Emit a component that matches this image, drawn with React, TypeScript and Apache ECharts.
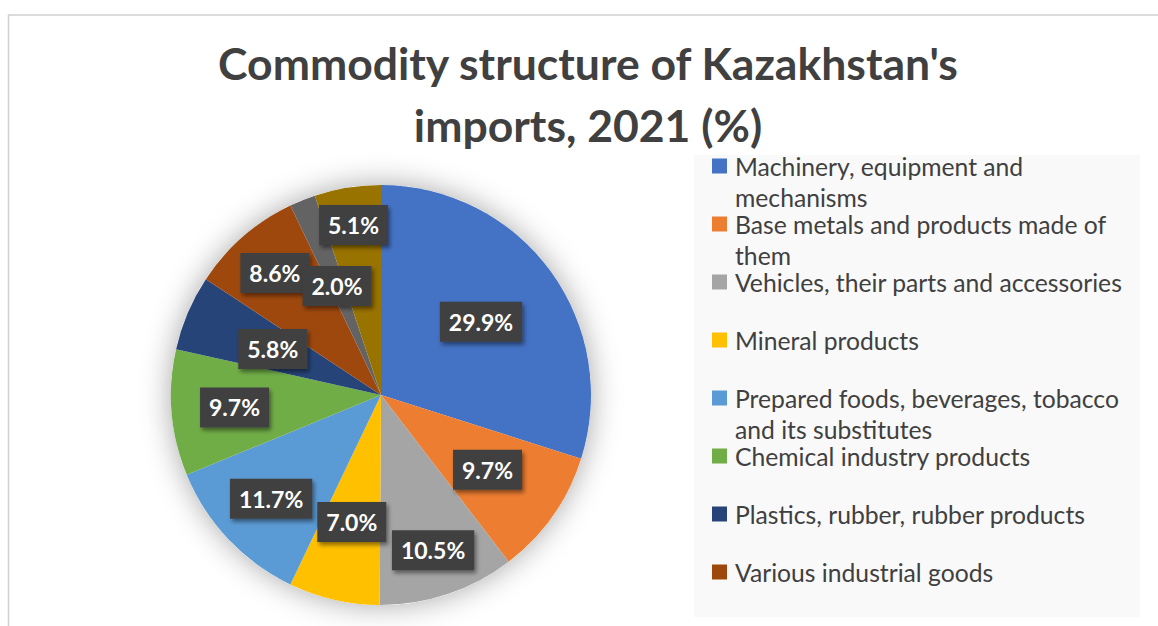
import React, { useEffect, useRef } from "react";
import * as echarts from "echarts";

const categories = [
  "Machinery, equipment and mechanisms",
  "Base metals and products made of them",
  "Vehicles, their parts and accessories",
  "Mineral products",
  "Prepared foods, beverages, tobacco and its substitutes",
  "Chemical industry products",
  "Plastics, rubber, rubber products",
  "Various industrial goods",
  "Textiles and textile products",
  "Other goods",
];
const shares = [29.9, 9.7, 10.5, 7.0, 11.7, 9.7, 5.8, 8.6, 2.0, 5.1];
const legendCategories = categories.slice(0, 8);
const legendLabels = [
  "Machinery, equipment and\nmechanisms",
  "Base metals and products made of\nthem",
  "Vehicles, their parts and accessories\n ",
  "Mineral products\n ",
  "Prepared foods, beverages, tobacco\nand its substitutes",
  "Chemical industry products\n ",
  "Plastics, rubber, rubber products\n ",
  "Various industrial goods\n ",
];
const colors = [
  "#4472C4", "#ED7D31", "#A5A5A5", "#FFC000", "#5B9BD5",
  "#70AD47", "#264478", "#9E480E", "#636363", "#997300",
];
const titleText = "Commodity structure of Kazakhstan's\nimports, 2021 (%)";

// layout (styles, not data)
const CX = 381;
const CY = 395;
const R = 210;
const labelRadius = [0.59, 0.62, 0.78, 0.62, 0.72, 0.7, 0.56, 0.77, 0.56, 0.82];
const FONT = "Lato, 'Open Sans', sans-serif";

export default function App() {
  const ref = useRef<HTMLDivElement>(null);
  useEffect(() => {
    if (!ref.current) return;
    const chart = echarts.init(ref.current, null, { renderer: "svg" });
    const total = shares.reduce((a, b) => a + b, 0);
    const mids: number[] = [];
    let acc = 0;
    shares.forEach((v) => {
      mids.push(((acc + v / 2) / total) * Math.PI * 2);
      acc += v;
    });
    const option: any = {
      animation: false,
      color: colors,
      title: {
        text: titleText,
        left: 583,
        top: 26,
        textAlign: "center",
        textStyle: {
          fontFamily: FONT,
          fontWeight: "bold",
          fontSize: 44.5,
          lineHeight: 62,
          color: "#404040",
        },
      },
      legend: {
        orient: "vertical",
        left: 712,
        top: 119.5,
        padding: 0,
        itemWidth: 15,
        itemHeight: 15,
        itemGap: -35,
        icon: "rect",
        data: legendCategories,
        selectedMode: false,
        formatter: (name: string) => " \n" + legendLabels[legendCategories.indexOf(name)],
        textStyle: {
          fontFamily: FONT,
          fontSize: 24.7,
          lineHeight: 31,
          color: "#404040",
          padding: [0, 0, 0, 3],
          backgroundColor: "rgba(0,0,0,0)",
        },
      },
      graphic: [
        {
          type: "rect",
          z: -10,
          silent: true,
          shape: { x: 8.5, y: 15, width: 1300, height: 800 },
          style: { fill: "#ffffff", stroke: "#d0d0d0", lineWidth: 1.5 },
        },
        {
          type: "rect",
          z: -5,
          silent: true,
          shape: { x: 694, y: 155, width: 446, height: 462 },
          style: { fill: "#f9f9f9" },
        },
      ],
      series: [
        {
          type: "pie",
          name: "shadow",
          silent: true,
          center: [CX, CY],
          radius: R,
          label: { show: false },
          labelLine: { show: false },
          itemStyle: {
            color: "#ffffff",
            shadowBlur: 30,
            shadowColor: "rgba(0,0,0,0.35)",
          },
          data: [{ value: 1, name: "__bg" }],
        },
        {
          type: "pie",
          name: "Imports",
          center: [CX, CY],
          radius: R,
          startAngle: 90,
          clockwise: true,
          avoidLabelOverlap: false,
          itemStyle: { borderWidth: 0 },
          labelLine: { show: false },
          label: {
            show: true,
            position: "inside",
            formatter: (p: any) => p.value.toFixed(1) + "%",
            color: "#ffffff",
            fontFamily: FONT,
            fontWeight: "bold",
            fontSize: 23,
            lineHeight: 28,
            backgroundColor: "#414141",
            padding: [6, 9, 6, 9],
            shadowBlur: 4,
            shadowOffsetX: 2,
            shadowOffsetY: 3,
            shadowColor: "rgba(0,0,0,0.45)",
          },
          labelLayout: (p: any) => {
            const i = p.dataIndex;
            const d = R * labelRadius[i];
            return {
              x: CX + Math.sin(mids[i]) * d,
              y: CY - Math.cos(mids[i]) * d,
              align: "center",
              verticalAlign: "middle",
              hideOverlap: false,
            };
          },
          data: categories.map((c, i) => ({ name: c, value: shares[i] })),
        },
      ],
    };
    chart.setOption(option);
    return () => chart.dispose();
  }, []);
  return (
    <div
      ref={ref}
      style={{ position: "fixed", left: 0, top: 0, width: 1158, height: 626, background: "#fff" }}
    />
  );
}
